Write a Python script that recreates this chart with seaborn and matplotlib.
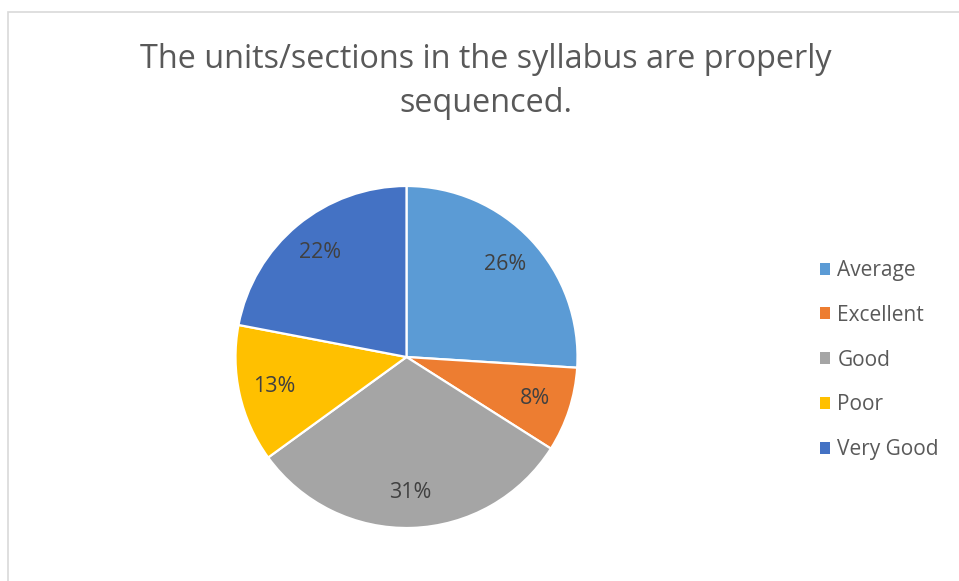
import seaborn as sns
import matplotlib.pyplot as plt
from matplotlib.patches import Patch, Rectangle

# Data
categories = ['Average', 'Excellent', 'Good', 'Poor', 'Very Good']
shares = [26, 8, 31, 13, 22]
colors = ['#5B9BD5', '#ED7D31', '#A5A5A5', '#FFC000', '#4472C4']
title = 'The units/sections in the syllabus are properly\nsequenced.'

sns.set_theme(style="white")
plt.rcParams['font.family'] = ['Open Sans', 'DejaVu Sans']

fig = plt.figure(figsize=(9.59, 5.81), dpi=100)

# light chart-area border (cropped at right and bottom)
fig.patches.append(Rectangle((7.5 / 959, -0.1), 1.0, 1 - 12.5 / 581 + 0.1,
                             transform=fig.transFigure, fill=False,
                             edgecolor='#d9d9d9', linewidth=1.2))

# pie centred at ~(406, 357) px with radius ~171 px
ax = fig.add_axes([235.5 / 959, 1 - 528 / 581, 342 / 959, 342 / 581])
wedges, texts, autotexts = ax.pie(
    shares, colors=colors, startangle=90, counterclock=False,
    autopct='%1.0f%%', pctdistance=0.79,
    wedgeprops=dict(edgecolor='white', linewidth=1.6),
    textprops=dict(color='#404040', fontsize=15.5))
ax.set_xlim(-1, 1)
ax.set_ylim(-1, 1)
ax.set_aspect('equal')
ax.axis('off')

fig.text(486 / 959, 1 - 81.5 / 581, title, ha='center', va='center',
         fontsize=23.3, color='#595959', linespacing=1.4)

handles = [Patch(facecolor=c, edgecolor='none') for c in colors]
fig.legend(handles, categories, loc='center left',
           bbox_to_anchor=(801 / 959, 1 - 360 / 581), frameon=False,
           fontsize=15, labelcolor='#595959', handlelength=0.5,
           handleheight=0.5, handletextpad=0.35, labelspacing=1.14)

fig.savefig('out.png', dpi=100)
